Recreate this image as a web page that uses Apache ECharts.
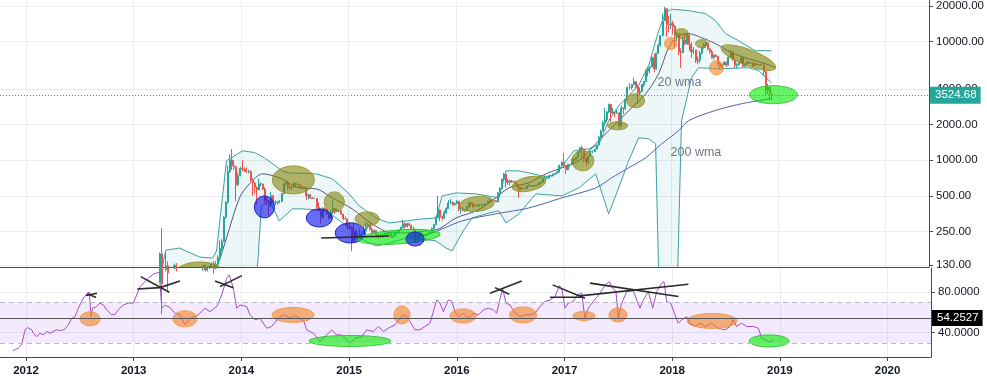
<!DOCTYPE html>
<html><head><meta charset="utf-8">
<script src="https://cdn.jsdelivr.net/npm/echarts@6/dist/echarts.min.js"></script>
<style>html,body{margin:0;padding:0;background:#fff}#c{width:987px;height:382px}</style>
</head><body><div id="c"></div><script>
// ---------- DATA ----------
const firstWeek = '2013-03-04';   // weekly candles, one per week from this Monday
const firstOpen = 33;
const closes = [
 46,47,70,93, 162,90,120,128,112, 115,122,129,122, 108,100,107,90, 78,94,90,96,105, 102,100,122,129, 118,124,126,133,122, 132,150,180,206, 330,440,800,1000, 900,880,620,740,850,
 840,830,800,800, 680,640,590,560, 630,630,570,460,450, 420,500,440,440, 440,450,520,630, 650,590,590,590,635, 625,620,595,585, 590,500,510,480, 475,475,400,375,330, 390,385,355,325, 365,390,375,375, 375,350,320,320,275,
 270,205,250,225, 225,235,240,255, 275,285,260,245,255, 235,225,230,235, 240,237,238,225, 228,245,245,257,270, 290,275,290,282, 262,260,228,230,240, 230,231,235,240, 245,265,285,325, 380,330,325,360,390, 435,440,420,430,
 450,385,390,375, 375,400,440,430,410, 415,410,420,420, 422,430,450,455, 460,455,445,530,575, 690,760,650,670, 650,665,660,625, 590,570,580,575,605, 610,605,605,612, 615,640,655,700,705, 705,740,735,765, 770,790,895,960,
 900,830,920,920,1010, 1000,1050,1180,1270, 1240,1020,960,1080, 1180,1180,1240,1340, 1560,1760,2050,2200,2550, 2950,2500,2550,2500, 2500,1950,2750,2730,3250, 4100,4100,4350,4600, 4200,3700,3800,4350, 4600,5650,6000,6150,7350, 5900,8000,9300,11200, 15000,19000,14000,13800,
 14300,13500,11500,11600,8200, 8100,10400,9600,11400, 9500,8200,8500,6900, 7000,8000,8900,9300,9800, 8700,8200,7350,7700, 7500,6500,6150,6400, 6700,6350,7400,8200,7000, 6300,6400,6700,7300, 6200,6500,6700,6600, 6600,6300,6500,6400,6400, 6350,5600,3900,4100, 3600,3525
];
const highs = [
 48,48,75,95, 166,266,125,165,140, 120,125,134,135, 125,110,112,107, 92,100,98,98,106, 108,103,124,130, 132,128,128,136,140, 140,157,210,215, 335,450,900,1120, 1240,1000,870,780,880,
 1000,870,870,830, 820,700,650,600, 700,650,630,590,490, 460,540,510,460, 450,460,530,640, 670,660,600,610,655, 640,630,625,600, 595,590,520,515, 490,480,475,440,390, 400,400,390,360, 380,460,390,390, 385,370,350,335,320,
 300,275,300,260, 240,265,250,280, 300,295,290,270,260, 255,240,240,245, 245,245,242,240, 232,252,255,260,275, 315,300,295,298, 285,275,262,235,245, 245,235,238,245, 250,270,290,335, 500,385,340,375,400, 460,470,445,440,
 460,450,410,400, 380,410,445,440,440, 420,420,425,425, 425,435,455,470, 465,465,460,540,590, 700,780,770,700, 680,680,670,660, 630,600,585,585,610, 630,615,610,615, 620,645,660,720,745, 740,750,750,770, 775,795,920,975,
 1150,905,930,925,1020, 1060,1055,1190,1290, 1330,1250,1060,1090, 1200,1210,1250,1350, 1600,1800,2150,2760,2600, 3000,2980,2760,2600, 2650,2550,2900,2800,3300, 4200,4480,4400,4980, 4650,4350,4100,4400, 4650,5850,6150,6200,7600, 7900,8050,9700,11400, 17200,19700,19000,16500,
 17200,15000,13800,12000,11800, 8800,11000,11800,11600, 11700,9900,9000,8500, 7500,8400,9000,9750,9950, 9800,8800,8500,7800, 7800,7500,6800,6500, 6850,6800,7500,8500,8300, 7200,6600,6800,7350, 7400,6550,6850,6800, 6650,6700,6550,6500,6450, 6550,6450,5600,4400, 4200,3650
];
const lows = [
 33,44,47,70, 93,50,60,115,80, 105,110,120,115, 100,95,97,85, 66,75,85,87,93, 100,96,100,116, 115,115,120,122,110, 120,132,150,170, 206,320,430,780, 830,830,450,600,730,
 800,800,780,770, 660,500,520,420, 560,600,560,440,420, 340,400,420,420, 420,430,440,520, 620,560,560,560,585, 610,610,580,575, 575,460,470,475, 470,470,390,370,290, 320,370,345,315, 320,350,350,365, 360,345,310,315,260,
 260,170,200,210, 210,215,230,235, 255,265,255,235,240, 220,215,220,220, 232,232,234,222, 222,228,238,240,255, 265,265,270,277, 258,255,200,200,225, 228,225,227,235, 238,245,265,285, 325,305,310,320,350, 390,425,410,415,
 425,370,350,370, 365,370,400,405,395, 405,405,410,410, 415,420,428,440, 445,450,440,440,530, 570,680,590,620, 610,645,645,615, 480,560,565,565,570, 600,600,590,600, 605,615,630,650,680, 690,700,725,730, 755,765,790,890,
 880,760,820,880,910, 950,990,1040,1160, 1000,960,890,930, 1070,1150,1170,1240, 1340,1550,1750,1950,2100, 2500,2100,2450,2300, 2450,1830,1900,2450,2650, 3200,3950,3950,4300, 4000,2980,3550,3850, 4150,4600,5100,5400,6100, 5500,5800,7900,9100, 11200,15000,11000,12000,
 12800,11500,9000,10000,7700, 6000,8000,9300,9400, 8400,7300,7900,6600, 6450,6600,7800,8700,8900, 8400,7900,7200,7050, 7400,6200,5800,5800, 6300,6100,6300,7400,6900, 6000,5900,6250,6700, 6100,6150,6200,6450, 6500,6100,6350,6350,6300, 6300,5200,3500,3600, 3250,3200
];
// indicator lines: [decimal year, price]
const bbUpper = [[2013.25,100],[2013.300,174],[2013.430,181],[2013.616,152],[2013.736,149],[2013.773,171],[2013.866,987],[2014.015,1198],[2014.126,1160],[2014.219,1046],[2014.386,812],[2014.451,781],[2014.702,766],[2014.851,695],[2015.008,519],[2015.101,411],[2015.259,325],[2015.380,295],[2015.538,307],[2015.686,319],[2015.816,325],[2015.872,499],[2016.002,529],[2016.188,519],[2016.401,480],[2016.466,812],[2016.587,812],[2016.680,781],[2016.838,723],[2016.912,750],[2017.005,930],[2017.097,1198],[2017.237,1246],[2017.330,1350],[2017.422,2150],[2017.515,2877],[2017.608,3495],[2017.701,4300],[2017.794,6270],[2017.887,12390],[2017.952,17580],[2018.007,18800],[2018.165,18290],[2018.323,17240],[2018.416,15050],[2018.509,11690],[2018.630,10200],[2018.787,8390],[2018.936,8390]];
const bbLower = [[2013.25,50],[2014.126,50],[2014.191,411],[2014.266,453],[2014.358,307],[2014.479,388],[2014.572,388],[2014.795,373],[2015.008,268],[2015.101,220],[2015.259,189],[2015.352,196],[2015.538,220],[2015.686,216],[2015.816,208],[2015.909,181],[2015.965,171],[2016.058,243],[2016.150,325],[2016.308,358],[2016.401,373],[2016.466,295],[2016.587,352],[2016.745,519],[2016.986,499],[2017.144,583],[2017.302,766],[2017.422,352],[2017.515,583],[2017.608,987],[2017.701,1543],[2017.794,1514],[2017.859,1373],[2017.896,50],[2018.054,50],[2018.100,2150],[2018.137,2990],[2018.193,4960],[2018.258,6030],[2018.444,5900],[2018.722,6030],[2018.815,5690],[2018.936,4500]];
const wma20 = [[2013.70,110],[2013.773,125],[2013.866,220],[2013.987,480],[2014.080,630],[2014.201,766],[2014.358,709],[2014.544,583],[2014.702,572],[2014.851,480],[2015.036,388],[2015.222,289],[2015.408,243],[2015.566,243],[2015.724,253],[2015.844,263],[2016.002,325],[2016.188,373],[2016.337,453],[2016.494,583],[2016.680,643],[2016.838,766],[2016.986,861],[2017.144,987],[2017.302,1373],[2017.450,1875],[2017.608,2610],[2017.766,3635],[2017.887,5365],[2017.980,8900],[2018.072,11240],[2018.165,11690],[2018.286,10810],[2018.416,9620],[2018.565,8070],[2018.722,7180],[2018.880,6520],[2018.973,6030]];
const wma200 = [[2015.566,228],[2015.751,238],[2016.058,307],[2016.374,352],[2016.680,395],[2016.986,480],[2017.302,583],[2017.450,709],[2017.608,861],[2017.766,1046],[2017.915,1373],[2018.072,1769],[2018.165,2150],[2018.407,2610],[2018.657,2990],[2018.936,3300]];
// weekly RSI: [decimal year, value]
const rsi = [[2011.877,22],[2011.926,24.7],[2011.960,28],[2011.991,42.7],[2012.012,45],[2012.053,42.7],[2012.068,39.4],[2012.099,36],[2012.130,39.4],[2012.158,37.7],[2012.192,41],[2012.223,39.4],[2012.251,41],[2012.285,42.7],[2012.331,42],[2012.362,43.6],[2012.393,47.6],[2012.424,54],[2012.455,55.7],[2012.486,64],[2012.532,73.8],[2012.569,78.7],[2012.588,79.7],[2012.604,55.7],[2012.619,64],[2012.656,65.6],[2012.687,69],[2012.718,67.2],[2012.749,62.3],[2012.796,57.4],[2012.826,58],[2012.857,62.3],[2012.903,67.2],[2012.950,69],[2012.996,69],[2013.028,77],[2013.058,85],[2013.136,93.5],[2013.182,97.4],[2013.238,99.4],[2013.260,64],[2013.291,67],[2013.337,64.6],[2013.383,59],[2013.430,57.4],[2013.476,47.6],[2013.523,54],[2013.569,55.7],[2013.616,59],[2013.662,64],[2013.708,60.6],[2013.771,65.6],[2013.817,77],[2013.864,93.5],[2013.888,96.7],[2013.925,83.6],[2013.956,64],[2013.987,67.2],[2014.049,65.6],[2014.080,57.4],[2014.126,52.5],[2014.173,54],[2014.235,44.3],[2014.281,46],[2014.343,54],[2014.389,58],[2014.451,54],[2014.498,56.7],[2014.544,54],[2014.581,50.8],[2014.606,42.7],[2014.668,39.4],[2014.730,31.2],[2014.776,36],[2014.838,42.7],[2014.885,37.7],[2014.931,37.7],[2015.008,29.6],[2015.055,34.5],[2015.117,36],[2015.163,42.7],[2015.225,41],[2015.271,46],[2015.318,41],[2015.364,44.3],[2015.426,47.6],[2015.473,54],[2015.503,57.4],[2015.535,55.7],[2015.565,50.8],[2015.612,42.7],[2015.658,42.7],[2015.705,46],[2015.751,49.2],[2015.782,60.6],[2015.813,72],[2015.844,69],[2015.875,60.6],[2015.921,72],[2015.953,71],[2015.983,60.6],[2016.014,55.7],[2016.060,59],[2016.107,54],[2016.153,59],[2016.200,57.4],[2016.246,62.3],[2016.292,64],[2016.339,62.3],[2016.370,59],[2016.395,70.5],[2016.426,83],[2016.457,69],[2016.494,67.2],[2016.540,59],[2016.587,55.7],[2016.633,57.4],[2016.680,57.4],[2016.726,59],[2016.773,65.6],[2016.819,70.5],[2016.865,72],[2016.912,75.4],[2016.952,86.2],[2016.974,83.6],[2017.005,64],[2017.035,69],[2017.082,70.5],[2017.119,77],[2017.160,78.7],[2017.190,54],[2017.221,64],[2017.267,70.5],[2017.330,78.7],[2017.376,86.9],[2017.416,90.1],[2017.447,83.6],[2017.478,80.3],[2017.500,54],[2017.531,69],[2017.578,80.3],[2017.639,81],[2017.676,70.5],[2017.701,64],[2017.732,72],[2017.778,80.3],[2017.819,64],[2017.856,80.3],[2017.902,88.5],[2017.924,90.1],[2017.949,70.5],[2017.986,69],[2018.026,57.4],[2018.057,49.2],[2018.088,52.5],[2018.135,55.7],[2018.165,49.2],[2018.212,46],[2018.258,49.2],[2018.305,46],[2018.367,49.2],[2018.428,44.3],[2018.490,42.7],[2018.537,46],[2018.567,52.5],[2018.598,46],[2018.645,49.2],[2018.692,46],[2018.753,46],[2018.800,44.3],[2018.831,34.5],[2018.862,32.8],[2018.908,30.5],[2018.939,32.8]];
const lastPrice = 3524.68;
const rsiLevel = 54.2527;
const rsiUpper = 70, rsiLower = 30;
const yearTicks = [2012,2013,2014,2015,2016,2017,2018,2019,2020];
const priceTicks = [130,250,500,1000,2000,4000,10000,20000];
const rsiTicks = [40,80];
// hand-drawn annotations (data coordinates): [year, value, rx, ry, rotation deg, kind]
const priceMarks = [[2013.616,116,22,9,0,0],[2014.219,403,10,11,0,1],[2014.488,681,21,14,0,0],[2014.730,325,13,9,0,1],[2014.869,444,10,10,0,0],[2015.018,243,15,10,0,1],[2015.175,319,12,7,0,0],[2015.473,225,41,7,4,3],[2015.621,216,9,7,0,1],[2016.197,427,17,7.5,5,0],[2016.680,630,17,7,12,0],[2017.181,987,11,10,0,0],[2017.506,1950,10,4,0,0],[2017.673,3172,9,7,0,0],[2017.998,9620,6,6,0,2],[2018.100,11690,7,5,0,0],[2018.286,9620,6,4,0,0],[2018.425,6030,7,7,0,2],[2018.722,7325,29,8,-21,0],[2018.955,3565,24,9,0,3]];
const rsiMarks = [[2012.594,53.5,10,7,0,2],[2013.476,53.5,12,8,0,2],[2014.479,57.4,21,7.5,0,2],[2015.008,31.8,41,5.5,0,3],[2015.491,57.4,8,9,0,2],[2016.058,56.4,13,7,0,2],[2016.615,57.4,13.5,8,0,2],[2017.181,56.4,11,4.5,0,2],[2017.497,57.4,9,7,0,2],[2018.370,51.5,25,7.5,0,2],[2018.899,31.8,20,6,0,3]];
const priceSegs = [[2014.748,220,2015.380,229]];
const rsiSegs = [[2012.557,76.4,2012.659,78.7],[2012.569,78.3,2012.650,74.4],[2013.033,82.9,2013.244,84.2],[2013.244,84.2,2013.430,90.8],[2013.065,95.0,2013.331,79.7],[2013.755,90.8,2013.925,84.2],[2013.801,85.2,2014.003,96.0],[2016.308,78.7,2016.603,90.8],[2016.355,84.2,2016.487,77.7],[2016.890,86.9,2017.190,73.8],[2016.865,74.8,2017.159,74.8],[2017.144,76.1,2018.150,87.6],[2017.237,88.6,2018.057,75.4]];
const priceTexts = [[2017.877,4505,0],[2017.998,1152,1]];
const textLabels = ['20 wma','200 wma'];

// ---------- BUILD ----------
function decYear(ms){const d=new Date(ms);const y=d.getUTCFullYear();const s=Date.UTC(y,0,1),e=Date.UTC(y+1,0,1);return y+(ms-s)/(e-s);}
const t0 = Date.parse(firstWeek+'T00:00:00Z');
const candles = closes.map((c,i)=>[decYear(t0+i*7*86400000), i===0?firstOpen:closes[i-1], c, lows[i], highs[i]]);

const FONT = "'Liberation Sans', Arial, sans-serif";
const kinds = [
 {fill:'rgba(128,128,0,0.58)', stroke:'#9a9a30'},
 {fill:'rgba(10,20,235,0.62)', stroke:'#1a22c8'},
 {fill:'rgba(243,130,30,0.6)', stroke:'#f29a4a'},
 {fill:'rgba(0,235,0,0.6)', stroke:'#3cc43c'}
];
function ellipseItem(params, api){
  const p = api.coord([api.value(0), api.value(1)]);
  const k = kinds[api.value(5)];
  return {type:'ellipse', x:p[0], y:p[1], rotation: api.value(4)*Math.PI/180,
    shape:{cx:0, cy:0, rx:api.value(2), ry:api.value(3)}, style:{fill:k.fill, stroke:k.stroke, lineWidth:1}};
}
function segItem(params, api){
  const a = api.coord([api.value(0), api.value(1)]), b = api.coord([api.value(2), api.value(3)]);
  return {type:'line', shape:{x1:a[0], y1:a[1], x2:b[0], y2:b[1]}, style:{stroke:'#2a2a2a', lineWidth:1.6}};
}
const xMin = 2011.7586, xMax = 2020.403;
const gridColor = '#e9eef3';
const axisColor = '#4a4a4a';

const option = {
  animation:false,
  backgroundColor:'#fff',
  textStyle:{fontFamily:FONT},
  grid:[{left:0, right:56, top:0, height:267},{left:0, right:56, top:268, height:89}],
  xAxis:[
    {type:'value', gridIndex:0, min:xMin, max:xMax, axisLabel:{show:false},
     axisTick:{show:false, customValues:yearTicks}, axisLine:{show:true, lineStyle:{color:axisColor}},
     splitLine:{show:true, lineStyle:{color:gridColor}}},
    {type:'value', gridIndex:1, min:xMin, max:xMax,
     axisLabel:{customValues:yearTicks, formatter:v=>String(Math.round(v)), color:'#131722', fontWeight:'bold', fontSize:11.5, margin:8},
     axisTick:{show:true, customValues:yearTicks, length:4, lineStyle:{color:axisColor}},
     axisLine:{show:true, lineStyle:{color:axisColor}},
     splitLine:{show:true, lineStyle:{color:gridColor}}}
  ],
  yAxis:[
    {type:'log', gridIndex:0, position:'right', min:125.3, max:22220, logBase:10,
     axisLabel:{customValues:priceTicks, formatter:v=>Number(v).toFixed(2), color:'#131722', fontSize:11.5, margin:7},
     axisTick:{show:true, customValues:priceTicks, length:4, lineStyle:{color:axisColor}},
     axisLine:{show:true, lineStyle:{color:axisColor}},
     splitLine:{show:true, lineStyle:{color:gridColor}}},
    {type:'value', gridIndex:1, position:'right', min:16, max:103.5,
     axisLabel:{customValues:rsiTicks, formatter:v=>Number(v).toFixed(4), color:'#131722', fontSize:11.5, margin:7},
     axisTick:{show:true, customValues:rsiTicks, length:4, lineStyle:{color:axisColor}},
     axisLine:{show:true, lineStyle:{color:axisColor}},
     splitLine:{show:true, lineStyle:{color:gridColor}}}
  ],
  series:[
    {type:'custom', name:'bbFill', xAxisIndex:0, yAxisIndex:0, clip:true, silent:true, z:1,
     data:[[2015,1000]], encode:{x:0,y:1},
     renderItem:(params, api)=>{
       const pts = bbUpper.map(d=>api.coord(d)).concat(bbLower.slice().reverse().map(d=>api.coord(d)));
       return {type:'polygon', shape:{points:pts}, style:{fill:'rgba(40,150,150,0.08)'}};
     }},
    {type:'line', name:'upper', xAxisIndex:0, yAxisIndex:0, data:bbUpper, symbol:'none', z:2,
     lineStyle:{color:'#3e9fa0', width:1}},
    {type:'line', name:'lower', xAxisIndex:0, yAxisIndex:0, data:bbLower, symbol:'none', z:2,
     lineStyle:{color:'#3e9fa0', width:1}},
    {type:'line', name:'wma20', xAxisIndex:0, yAxisIndex:0, data:wma20, symbol:'none', smooth:0.3, z:2,
     lineStyle:{color:'#4f5a78', width:1}},
    {type:'line', name:'wma200', xAxisIndex:0, yAxisIndex:0, data:wma200, symbol:'none', smooth:0.3, z:2,
     lineStyle:{color:'#4d62b8', width:1}},
    {type:'candlestick', name:'BTC', xAxisIndex:0, yAxisIndex:0, data:candles, encode:{x:0, y:[1,2,3,4]},
     barWidth:1.5, z:3,
     itemStyle:{color:'#26a69a', color0:'#ef5350', borderColor:'#26a69a', borderColor0:'#ef5350', borderWidth:1},
     markLine:{symbol:'none', silent:true, z:6,
       data:[{yAxis:lastPrice}],
       lineStyle:{type:[1,2], color:'#26a69a', width:1},
       label:{show:true, position:'end', distance:1, formatter:lastPrice.toFixed(2), backgroundColor:'#26a69a',
              color:'#fff', fontSize:11.5, padding:[3,4,2,5], fontFamily:FONT}}},
    {type:'custom', name:'priceMarks', xAxisIndex:0, yAxisIndex:0, clip:true, silent:true, z:4,
     dimensions:['x','y','rx','ry','rot','kind'], encode:{x:0,y:1}, data:priceMarks, renderItem:ellipseItem},
    {type:'custom', name:'priceSegs', xAxisIndex:0, yAxisIndex:0, clip:true, silent:true, z:5,
     encode:{x:[0,2],y:[1,3]}, data:priceSegs, renderItem:segItem},
    {type:'custom', name:'priceTexts', xAxisIndex:0, yAxisIndex:0, clip:true, silent:true, z:5,
     encode:{x:0,y:1}, data:priceTexts,
     renderItem:(params, api)=>{
       const p = api.coord([api.value(0), api.value(1)]);
       return {type:'text', x:p[0], y:p[1], style:{text:textLabels[api.value(2)], fill:'#6b7588', font:'12.5px '+FONT, textVerticalAlign:'middle', textAlign:'left'}};
     }},
    {type:'line', name:'RSI', xAxisIndex:1, yAxisIndex:1, data:rsi, symbol:'none', z:3,
     lineStyle:{color:'#a64bc9', width:1},
     markArea:{silent:true, itemStyle:{color:'rgba(160,90,240,0.12)'}, data:[[{yAxis:rsiLower},{yAxis:rsiUpper}]]},
     markLine:{symbol:'none', silent:true,
       data:[
         {yAxis:rsiUpper, lineStyle:{type:[5,4], color:'#b8b8c0', width:1}, label:{show:false}},
         {yAxis:rsiLower, lineStyle:{type:[5,4], color:'#b8b8c0', width:1}, label:{show:false}},
         {yAxis:rsiLevel, lineStyle:{type:'solid', color:'#555', width:1},
          label:{show:true, position:'end', distance:1, formatter:rsiLevel.toFixed(4), backgroundColor:'#000', color:'#fff', fontSize:11.5, padding:[2,4,2,5], fontFamily:FONT}}
       ]}},
    {type:'custom', name:'rsiMarks', xAxisIndex:1, yAxisIndex:1, clip:true, silent:true, z:4,
     dimensions:['x','y','rx','ry','rot','kind'], encode:{x:0,y:1}, data:rsiMarks, renderItem:ellipseItem},
    {type:'custom', name:'rsiSegs', xAxisIndex:1, yAxisIndex:1, clip:true, silent:true, z:5,
     encode:{x:[0,2],y:[1,3]}, data:rsiSegs, renderItem:segItem}
  ]
};
const chart = echarts.init(document.getElementById('c'));
chart.setOption(option);
</script></body></html>
